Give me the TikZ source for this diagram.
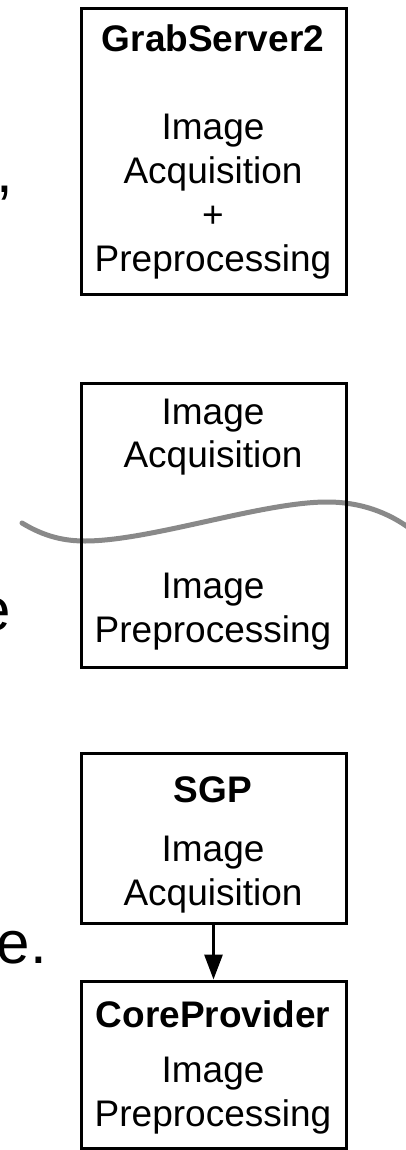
\documentclass[tikz,border=0pt]{standalone}
\usepackage{fontspec}
\setmainfont{Liberation Sans}
\usetikzlibrary{arrows.meta}
\definecolor{wavegray}{HTML}{898989}
\begin{document}
\begin{tikzpicture}[x=1pt,y=-1pt,
  box/.style={draw, line width=3pt, inner sep=0pt, minimum width=265pt},
  txt/.style={inner sep=0pt, anchor=base, font=\fontsize{37}{43.8}\selectfont},
  frag/.style={inner sep=0pt, anchor=base east, font=\fontsize{60}{72}\selectfont},
  arr/.style={line width=3pt, -{Triangle[width=18pt,length=25pt]}},
  wave/.style={line width=5pt, draw=wavegray, line cap=round}]
\useasboundingbox (0,0) rectangle (405,1150);
% cut-off text at the left
\node[frag] (f1) at (13.5,193) {,};
\node[frag] (f2) at (11,630) {e};
\node[frag] (f3) at (47,963) {e.};
% wavy separator
\draw[wave] (22,523) .. controls (45,537) and (65,541) .. (85,541)
  .. controls (150,541) and (262,502) .. (327,502)
  .. controls (360,502) and (388,512) .. (412,530);
% boxes
\node[box, minimum height=285pt] (b1) at (213.5,151.5) {};
\node[box, minimum height=284pt] (b2) at (213.5,525) {};
\node[box, minimum height=170pt] (b3) at (213.5,838) {};
\node[box, minimum height=167pt] (b4) at (213.5,1064.5) {};
% texts
\node[txt] (t1) at (213,52) {\parbox[t]{260pt}{\centering\textbf{GrabServer2}\\[44pt]Image\\Acquisition\\+\\Preprocessing}};
\node[txt] (t2) at (213,424) {\parbox[t]{260pt}{\centering Image\\Acquisition\\[87pt]Image\\Preprocessing}};
\node[txt] (t3) at (213,802) {\parbox[t]{260pt}{\centering\textbf{SGP}\\[16pt]Image\\Acquisition}};
\node[txt] (t4) at (213,1027) {\parbox[t]{260pt}{\centering\textbf{CoreProvider}\\[12pt]Image\\Preprocessing}};
% connector
\draw[arr] (b3.south) -- (b4.north);
\end{tikzpicture}
\end{document}
